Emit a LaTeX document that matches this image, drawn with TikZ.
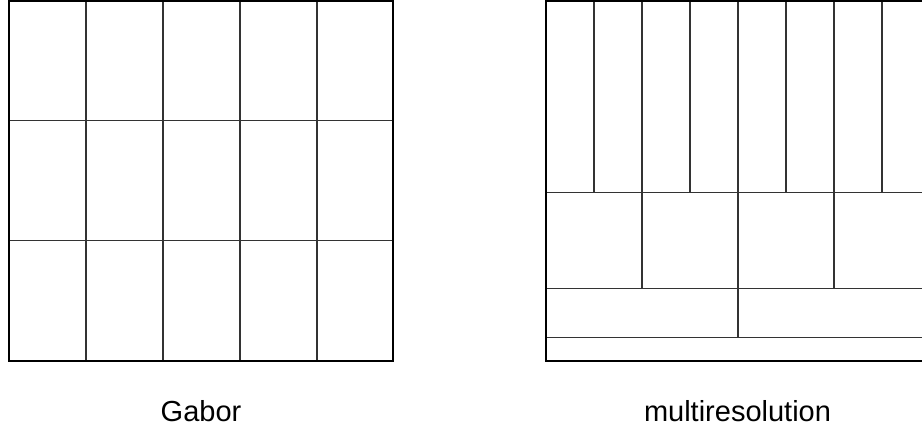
\documentclass[tikz,border=0pt]{standalone}
\usepackage{fontspec}
\setmainfont{Liberation Sans}

\begin{document}
\begin{tikzpicture}[
  x=1pt, y=-1pt,
  frame/.style={draw=black, line width=2pt},
  cell/.style={draw=black!80, line width=1.1pt},
  caption/.style={anchor=base, inner sep=0pt, font=\fontsize{29}{34}\selectfont}
]
\useasboundingbox (0,0) rectangle (922,429);

% Gabor tiling: 5 columns x 3 rows
\draw[cell] (86,1)  -- (86,360.5);
\draw[cell] (163,1) -- (163,360.5);
\draw[cell] (240,1) -- (240,360.5);
\draw[cell] (317,1) -- (317,360.5);
\draw[cell] (9,120.8) -- (393,120.8);
\draw[cell] (9,240.7) -- (393,240.7);
\draw[frame] (9,1) rectangle (393,360.5);

% multiresolution tiling: dyadic bands
\draw[cell] (546,192.5) -- (930,192.5);
\draw[cell] (546,288.3) -- (930,288.3);
\draw[cell] (546,337.5) -- (930,337.5);
\draw[cell] (594,1) -- (594,192.5);
\draw[cell] (642,1) -- (642,192.5);
\draw[cell] (690,1) -- (690,192.5);
\draw[cell] (738,1) -- (738,192.5);
\draw[cell] (786,1) -- (786,192.5);
\draw[cell] (834,1) -- (834,192.5);
\draw[cell] (882,1) -- (882,192.5);
\draw[cell] (642,192.5) -- (642,288.3);
\draw[cell] (738,192.5) -- (738,288.3);
\draw[cell] (834,192.5) -- (834,288.3);
\draw[cell] (738,288.3) -- (738,337.5);
\draw[frame] (546,1) rectangle (930,360.5);

\node[caption] (gabor) at (201,421.5) {Gabor};
\node[caption] (multires) at (737.5,421.5) {multiresolution};
\end{tikzpicture}
\end{document}
